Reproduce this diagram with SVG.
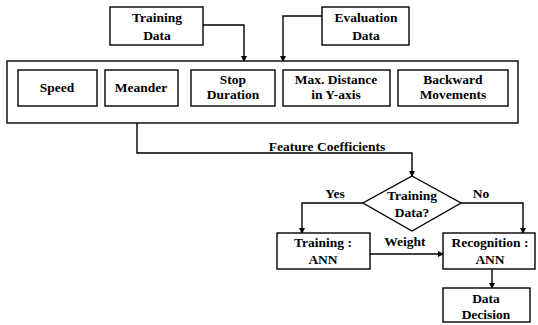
<svg xmlns="http://www.w3.org/2000/svg" width="538" height="325" viewBox="0 0 538 325">
<defs>
<marker id="arr" markerWidth="6" markerHeight="6" refX="5" refY="3" orient="auto" markerUnits="userSpaceOnUse">
<path d="M0,0 L6,3 L0,6 Z" fill="#000"/>
</marker>
<style>
.box{fill:#fff;stroke:#000;stroke-width:1.4}
.ln{fill:none;stroke:#000;stroke-width:1.4}
</style>
</defs>
<rect width="538" height="325" fill="#fff"/>
<g font-family="'Liberation Serif', 'DejaVu Serif', 'Times New Roman', serif" font-weight="bold" font-size="13.5" text-anchor="middle" fill="#000">
<g id="connectors">
<path class="ln" d="M203,25 H244 V61" marker-end="url(#arr)"/>
<path class="ln" d="M322,16 H283 V61" marker-end="url(#arr)"/>
<path class="ln" d="M137,123 V153 H412 V176" marker-end="url(#arr)"/>
<path class="ln" d="M363,203 H302 V233" marker-end="url(#arr)"/>
<path class="ln" d="M461,203 H523 V233" marker-end="url(#arr)"/>
<path class="ln" d="M370,254 H443" marker-end="url(#arr)"/>
<path class="ln" d="M492,269 V288" marker-end="url(#arr)"/>
<text x="327" y="151">Feature Coefficients</text>
<text x="335" y="198">Yes</text>
<text x="481" y="198">No</text>
<text x="405" y="246">Weight</text>
</g>
<g id="training-data">
<rect class="box" x="110" y="7" width="93" height="38"/>
<text x="157" y="22">Training</text>
<text x="157" y="40">Data</text>
</g>
<g id="evaluation-data">
<rect class="box" x="322" y="7" width="87" height="38"/>
<text x="366" y="22">Evaluation</text>
<text x="366" y="40">Data</text>
</g>
<g id="feature-extraction">
<rect class="box" x="7" y="61" width="511" height="62"/>
</g>
<g id="speed">
<rect class="box" x="18" y="70" width="79" height="36"/>
<text x="57" y="92">Speed</text>
</g>
<g id="meander">
<rect class="box" x="105" y="70" width="73" height="36"/>
<text x="141" y="92">Meander</text>
</g>
<g id="stop-duration">
<rect class="box" x="191" y="70" width="84" height="36"/>
<text x="233" y="84">Stop</text>
<text x="233" y="99">Duration</text>
</g>
<g id="max-distance">
<rect class="box" x="283" y="70" width="107" height="36"/>
<text x="336" y="84">Max. Distance</text>
<text x="336" y="99">in Y-axis</text>
</g>
<g id="backward-movements">
<rect class="box" x="398" y="70" width="110" height="36"/>
<text x="453" y="84">Backward</text>
<text x="453" y="99">Movements</text>
</g>
<g id="decision">
<polygon class="box" points="412,176 461,203 412,231 363,203"/>
<text x="412" y="200">Training</text>
<text x="412" y="217">Data?</text>
</g>
<g id="training-ann">
<rect class="box" x="277" y="233" width="93" height="36"/>
<text x="323" y="247">Training :</text>
<text x="323" y="264">ANN</text>
</g>
<g id="recognition-ann">
<rect class="box" x="443" y="233" width="92" height="36"/>
<text x="490" y="247">Recognition :</text>
<text x="490" y="264">ANN</text>
</g>
<g id="data-decision">
<rect class="box" x="443" y="288" width="87" height="34"/>
<text x="486" y="303">Data</text>
<text x="486" y="319">Decision</text>
</g>
</g>
</svg>
